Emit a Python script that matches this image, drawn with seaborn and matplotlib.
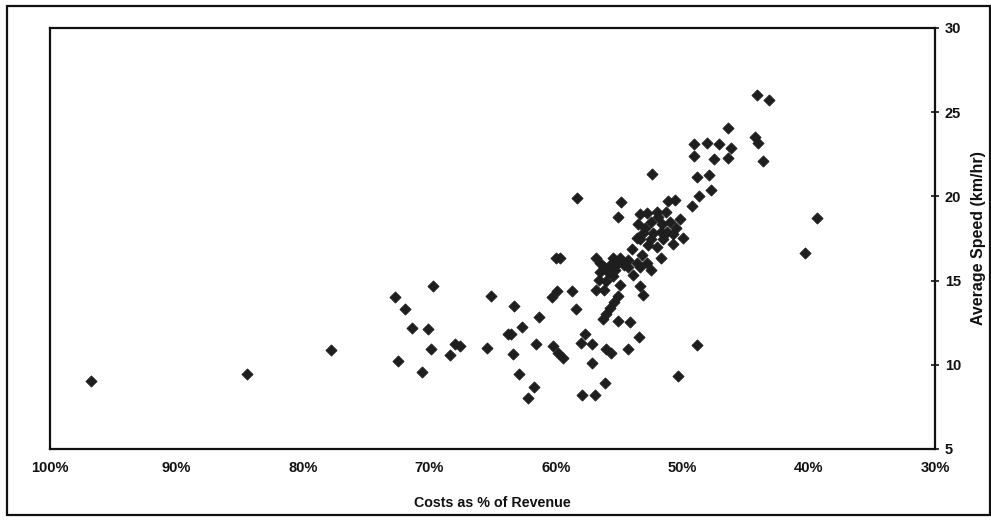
import matplotlib
matplotlib.use("Agg")
import matplotlib.pyplot as plt
import seaborn as sns
import pandas as pd
from matplotlib.patches import Rectangle
from matplotlib.ticker import FuncFormatter

# Operating costs as % of revenue and average speed (km/hr) per route
cost_pct = [
    96.8, 84.4, 77.8, 72.5, 70.6, 69.7, 72.7, 71.9, 65.1, 71.4,
    70.1, 69.9, 68.0, 67.6, 68.4, 65.4, 63.8, 63.5, 63.3, 62.7,
    61.3, 60.3, 59.9, 58.7, 58.4, 61.6, 63.4, 60.2, 59.8, 59.4,
    62.9, 61.7, 62.2, 57.9, 56.9, 56.1, 57.1, 57.7, 58.0, 57.1,
    56.0, 55.6, 54.3, 53.4, 55.1, 54.1, 48.8, 50.3, 60.0, 59.7,
    58.3, 54.8, 55.1, 52.8, 54.0, 51.7, 55.1, 55.4, 55.7, 56.0,
    56.3, 56.5, 55.7, 55.1, 54.3, 53.6, 52.8, 56.5, 55.9, 53.9,
    53.3, 53.1, 56.2, 55.3, 54.6, 56.6, 56.0, 55.5, 54.9, 53.2,
    52.0, 51.3, 53.5, 52.5, 51.6, 51.0, 50.2, 53.1, 52.3, 51.2,
    50.7, 53.3, 52.5, 51.5, 50.7, 52.0, 51.1, 50.6, 49.2, 48.7,
    47.7, 48.8, 47.9, 52.4, 49.1, 47.5, 46.4, 49.1, 48.0, 47.1,
    46.1, 46.4, 44.2, 44.0, 43.6, 44.1, 43.1, 39.3, 40.3,
    52.9, 51.9, 50.5, 52.7, 49.9, 51.7, 53.6, 53.3,
    56.8, 55.5, 54.3, 53.3, 56.8, 56.2, 54.9, 52.5,
]
avg_speed = [
    9.05, 9.45, 10.9, 10.2, 9.6, 14.7, 14.0, 13.3, 14.1, 12.2,
    12.1, 10.95, 11.25, 11.1, 10.6, 11.0, 11.8, 11.85, 13.5, 12.25,
    12.85, 14.05, 14.4, 14.4, 13.3, 11.25, 10.65, 11.1, 10.7, 10.4,
    9.45, 8.7, 8.05, 8.2, 8.2, 8.9, 10.1, 11.8, 11.3, 11.25,
    10.95, 10.7, 10.95, 11.65, 12.6, 12.55, 11.2, 9.35, 16.35, 16.35,
    19.9, 19.65, 18.8, 19.0, 16.85, 16.35, 14.1, 13.75, 13.35, 13.0,
    12.7, 16.05, 15.95, 16.05, 16.25, 16.05, 16.05, 15.5, 15.5, 15.35,
    14.65, 14.15, 15.8, 15.65, 15.9, 15.05, 14.95, 15.25, 16.35, 16.5,
    19.1, 19.05, 18.35, 18.5, 18.35, 18.5, 18.65, 17.85, 17.85, 17.9,
    17.75, 17.45, 17.45, 17.45, 17.15, 17.0, 19.75, 19.8, 19.45, 20.0,
    20.4, 21.15, 21.25, 21.35, 22.4, 22.2, 22.25, 23.1, 23.15, 23.1,
    22.9, 24.05, 23.55, 23.15, 22.1, 26.0, 25.7, 18.7, 16.65,
    18.15, 18.75, 18.15, 17.1, 17.55, 17.9, 17.55, 18.95,
    16.35, 16.35, 15.8, 15.8, 14.45, 14.45, 14.75, 15.65,
]

x_ticks = [100, 90, 80, 70, 60, 50, 40, 30]
y_ticks = [5, 10, 15, 20, 25, 30]

df = pd.DataFrame({"cost": cost_pct, "speed": avg_speed})

sns.set_style("white")
plt.rcParams["font.family"] = ["Liberation Sans", "DejaVu Sans"]

fig = plt.figure(figsize=(9.91, 5.21), dpi=100)
ax = fig.add_axes([0.0505, 0.1382, 0.893, 0.8081])

sns.scatterplot(data=df, x="cost", y="speed", marker="D", s=32,
                color="#1e1e1e", edgecolor="#1e1e1e", linewidth=0.6, ax=ax)

ax.set_xlim(100, 30)
ax.set_ylim(5, 30)
ax.set_xticks(x_ticks)
ax.set_yticks(y_ticks)
ax.xaxis.set_major_formatter(FuncFormatter(lambda v, p: f"{v:.0f}%"))

ax.yaxis.tick_right()
ax.yaxis.set_label_position("right")
ax.tick_params(axis="both", direction="inout", length=6, width=1.2,
               colors="#111111", labelsize=10.5)
ax.tick_params(axis="x", pad=6)
ax.tick_params(axis="y", pad=4)
for lab in ax.get_xticklabels() + ax.get_yticklabels():
    lab.set_fontweight("bold")

for side in ["left", "right", "top", "bottom"]:
    ax.spines[side].set_visible(True)
    ax.spines[side].set_color("#111111")
    ax.spines[side].set_linewidth(1.6)

ax.set_xlabel("Costs as % of Revenue", fontsize=10.3, fontweight="bold",
              labelpad=15, color="#111111")
ax.set_ylabel("Average Speed (km/hr)", fontsize=11.5, fontweight="bold",
              labelpad=7, color="#111111")

# frame around the whole chart
fig.patches.append(Rectangle((0.007, 0.012), 0.992, 0.976,
                             transform=fig.transFigure, fill=False,
                             edgecolor="#111111", linewidth=1.6))

fig.savefig("out.png", dpi=100)
